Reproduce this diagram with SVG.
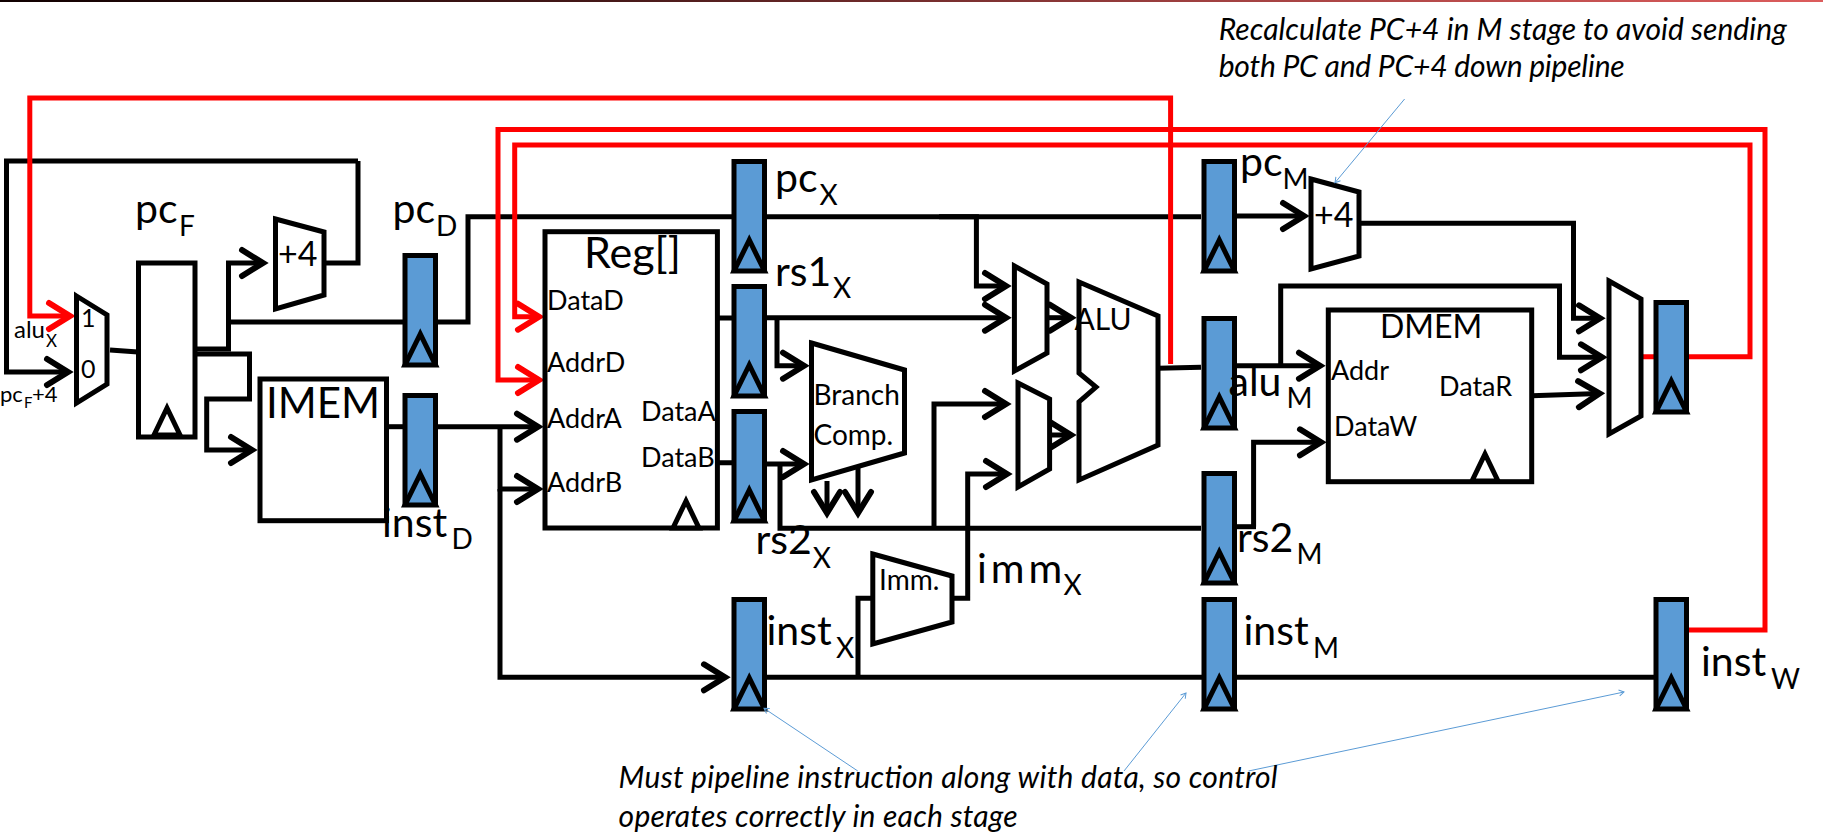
<svg xmlns="http://www.w3.org/2000/svg" xmlns:xlink="http://www.w3.org/1999/xlink" width="1823" height="835" viewBox="0 0 1823 835">
<style>
text{font-family:Lato,"Open Sans",sans-serif;fill:#000}
.w{fill:none;stroke:#000;stroke-width:5;marker-end:url(#ab)}
.n{fill:none;stroke:#000;stroke-width:5}
.r{fill:none;stroke:#f00;stroke-width:5;marker-end:url(#ar)}
.rn{fill:none;stroke:#f00;stroke-width:5}
.a{fill:none;stroke:#5b9bd5;stroke-width:1;marker-end:url(#aa)}
.b{fill:#fff;stroke:#000;stroke-width:5;stroke-linejoin:miter}
.l{font-size:41px}.s{font-size:28px}
.m{font-size:27px}.t{font-size:34px}
.i{font-size:30px;font-style:italic}
</style>
<defs>
<linearGradient id="top"><stop offset="0" stop-color="#100000"/><stop offset=".33" stop-color="#451818"/><stop offset=".66" stop-color="#a04040"/><stop offset="1" stop-color="#dc5c5c"/></linearGradient>
<marker id="ab" viewBox="0 0 44 40" markerWidth="44" markerHeight="40" refX="30" refY="20" orient="auto" markerUnits="userSpaceOnUse"><path d="M9,7L30,20L9,33" fill="none" stroke="#000" stroke-width="6" stroke-linecap="round"/></marker>
<marker id="ar" viewBox="0 0 44 40" markerWidth="44" markerHeight="40" refX="30" refY="20" orient="auto" markerUnits="userSpaceOnUse"><path d="M9,7L30,20L9,33" fill="none" stroke="#f00" stroke-width="6" stroke-linecap="round"/></marker>
<marker id="aa" viewBox="0 0 8 8" markerWidth="8" markerHeight="8" refX="6" refY="4" orient="auto" markerUnits="userSpaceOnUse"><path d="M1,1L6,4L1,7" fill="none" stroke="#5b9bd5" stroke-width="1"/></marker>
<g id="reg"><rect x="2.5" y="2.5" width="30.5" height="109" fill="#5b9bd5" stroke="#000" stroke-width="5"/><polygon points="17.75,81 2.5,112 33,112" fill="#5b9bd5" stroke="#000" stroke-width="5"/></g>
<polygon id="clk" points="17,6 4,33 30,33" fill="#fff" stroke="#000" stroke-width="5"/>
</defs>
<rect id="top-bar" x="0" y="0" width="1823" height="2" fill="url(#top)"/>

<g id="connectors">
<path class="w" d="M358,161H6.5V372H68"/>
<path class="n" d="M325,263H358V161"/>
<path class="n" d="M110,350L138,352"/>
<path class="w" d="M195,349H228.5V263H263"/>
<path class="n" d="M228.5,322H404M436,322H468V216.7H733M765,216.7H1201"/>
<path class="w" d="M195,354H249.5V399H206.7V450H252"/>
<path class="n" d="M388,426.7H404"/>
<path class="w" d="M438,426.7H538"/>
<path class="w" d="M500,426.7V489H538"/>
<path class="w" d="M500,489V677.3H725"/>
<path class="n" d="M765,677.3H1654"/>
<path class="n" d="M717,318H733M717,462.7H733"/>
<path class="w" d="M765,317.7H1006"/>
<path class="w" d="M939,216.7H976.4V286H1006"/>
<path class="w" d="M777,318V365.7H804"/>
<path class="w" d="M765,464H804"/>
<path class="n" d="M780,464V528.3H1201"/>
<path class="w" d="M934,528V404H1006"/>
<path class="w" d="M827,481V513"/>
<path class="w" d="M858,468V513"/>
<path class="w" d="M952,598.3H967.7V474H1007"/>
<path class="n" d="M858,677V598.3H873"/>
<path class="w" d="M1047,317.7H1071"/>
<path class="w" d="M1050,435H1071"/>
<path class="n" d="M1158,368.3L1201,367.3"/>
<path class="w" d="M1236,216H1304"/>
<path class="w" d="M1359,223.3H1573.5V318.3H1600"/>
<path class="w" d="M1236,365.7H1320"/>
<path class="w" d="M1280.7,366V286H1559.5V357.3H1602"/>
<path class="w" d="M1253.6,526.7V442.3H1321"/>
<path class="n" d="M1236,526.7H1256"/>
<path class="w" d="M1531.7,395.7L1599.5,393.5"/>
<path class="r" d="M1170.6,364V98H29.8V316H70"/>
<path class="r" d="M1688,630H1765V129.5H498V380H539"/>
<path class="r" d="M1642,356.7H1750V145H514.7V316.7H539"/>
</g>

<g id="mux-next-pc"><polygon class="b" points="76.5,296 107,315 107,384 76.5,403"/><text class="m" x="81" y="327" style="font-size:25px">1</text><text class="m" x="81" y="378" style="font-size:25px">0</text></g>
<text id="label-alu-x" x="14" y="338" font-size="24">alu<tspan font-size="17" x="46" y="347">X</tspan></text>
<text id="label-pcf4" x="0" y="402" font-size="22">pc<tspan font-size="15" x="24" y="408">F</tspan><tspan x="32" y="402">+4</tspan></text>

<g id="pc-f"><rect class="b" x="138.5" y="263" width="56.5" height="174"/><use href="#clk" x="150" y="402"/><text class="l" x="135" y="223">pc<tspan class="s" x="179" y="236">F</tspan></text></g>
<g id="adder-f"><polygon class="b" points="275.5,219 324,232 324,295 275.5,309"/><text class="t" x="278" y="266">+4</text></g>
<g id="imem"><rect class="b" x="260" y="379" width="126.5" height="141.7"/><text x="266" y="418" font-size="42">IMEM</text></g>
<g id="reg-pc-d"><use href="#reg" x="402.5" y="253"/><text class="l" x="392.5" y="223">pc<tspan class="s" x="436" y="236">D</tspan></text></g>
<g id="reg-inst-d"><use href="#reg" x="402.5" y="393"/><text class="l" x="382" y="536.7">inst<tspan class="s" x="451.6" y="549">D</tspan></text></g>

<g id="regfile"><rect class="b" x="545" y="231.7" width="172.4" height="296.3"/><use href="#clk" x="669" y="495"/>
<text x="584" y="268" font-size="43">Reg[]</text>
<text class="m" x="547" y="310">DataD</text><text class="m" x="547" y="372">AddrD</text><text class="m" x="547" y="428">AddrA</text><text class="m" x="547" y="492">AddrB</text>
<text class="m" x="641" y="421">DataA</text><text class="m" x="641" y="467">DataB</text></g>

<g id="reg-pc-x"><use href="#reg" x="731.5" y="159"/><text class="l" x="775" y="191.7">pc<tspan class="s" x="819.5" y="205">X</tspan></text></g>
<g id="reg-rs1-x"><use href="#reg" x="731.5" y="284"/><text class="l" x="775" y="286">rs1<tspan class="s" x="833" y="298">X</tspan></text></g>
<g id="reg-rs2-x"><use href="#reg" x="731.5" y="409"/><text class="l" x="755.5" y="554.3">rs2<tspan class="s" x="812.7" y="567.7">X</tspan></text></g>
<g id="reg-inst-x"><use href="#reg" x="731.5" y="597"/><text class="l" x="766.5" y="645">inst<tspan class="s" x="836" y="658">X</tspan></text></g>

<g id="branch-comp"><polygon class="b" points="811.5,343 904.5,370 904.5,453 811.5,480"/><text x="813.5" y="405" font-size="28">Branch</text><text x="813.5" y="445" font-size="28">Comp.</text></g>
<g id="imm"><polygon class="b" points="872.8,554 952,576 952,622 872.8,644"/><text x="879" y="590" font-size="28">Imm.</text><text class="l" x="977" y="583" style="letter-spacing:4px">imm<tspan class="s" x="1063.4" y="595">X</tspan></text></g>
<g id="mux-a"><polygon class="b" points="1014.4,266 1047,284 1047,353 1014.4,371"/></g>
<g id="mux-b"><polygon class="b" points="1018,383 1049.6,399 1049.6,469 1018,487"/></g>
<g id="alu"><polygon class="b" points="1079,282 1158,316 1158,445 1079,480 1079,402 1096,387 1079,373"/><text x="1074.5" y="330" font-size="30">ALU</text></g>

<g id="reg-pc-m"><use href="#reg" x="1201.5" y="159"/><text class="l" x="1240" y="175.5">pc<tspan class="s" x="1282.6" y="189">M</tspan></text></g>
<g id="reg-alu-m"><use href="#reg" x="1201.5" y="316"/><text class="l" x="1228.5" y="395.7">alu<tspan class="s" x="1286.6" y="408.3">M</tspan></text></g>
<g id="reg-rs2-m"><use href="#reg" x="1201.5" y="471"/><text class="l" x="1237" y="551.7">rs2<tspan class="s" x="1296.5" y="564">M</tspan></text></g>
<g id="reg-inst-m"><use href="#reg" x="1201.5" y="597"/><text class="l" x="1243.5" y="645">inst<tspan class="s" x="1313" y="658">M</tspan></text></g>
<g id="adder-m"><polygon class="b" points="1311,179 1359,192 1359,256 1311,269"/><text class="t" x="1314" y="226.7">+4</text></g>
<g id="dmem"><rect class="b" x="1328.3" y="310" width="203.4" height="171.7"/><use href="#clk" x="1468" y="448"/><text x="1380" y="338.3" font-size="32">DMEM</text><text class="m" x="1331" y="380">Addr</text><text class="m" x="1439" y="395.7">DataR</text><text class="m" x="1334" y="435.7">DataW</text></g>
<g id="mux-wb"><polygon class="b" points="1609,281 1641,299 1641,416 1609,434"/></g>
<g id="reg-w"><use href="#reg" x="1653.5" y="300"/></g>
<g id="reg-inst-w"><use href="#reg" x="1653.5" y="597"/><text class="l" x="1701" y="675.7">inst<tspan class="s" x="1771" y="689">W</tspan></text></g>

<g id="annotations">
<path class="a" d="M1404.6,99L1335,182.7"/>
<path class="a" d="M857.8,771L764,708.3"/>
<path class="a" d="M1124,771L1186,693"/>
<path class="a" d="M1248.5,771L1624,692"/>
<text class="i" x="1218.7" y="40" textLength="568">Recalculate PC+4 in M stage to avoid sending</text>
<text class="i" x="1218.7" y="77.3" textLength="406">both PC and PC+4 down pipeline</text>
<text class="i" x="618.6" y="788" textLength="659">Must pipeline instruction along with data, so control</text>
<text class="i" x="618.6" y="826.7" textLength="399">operates correctly in each stage</text>
</g>
</svg>
